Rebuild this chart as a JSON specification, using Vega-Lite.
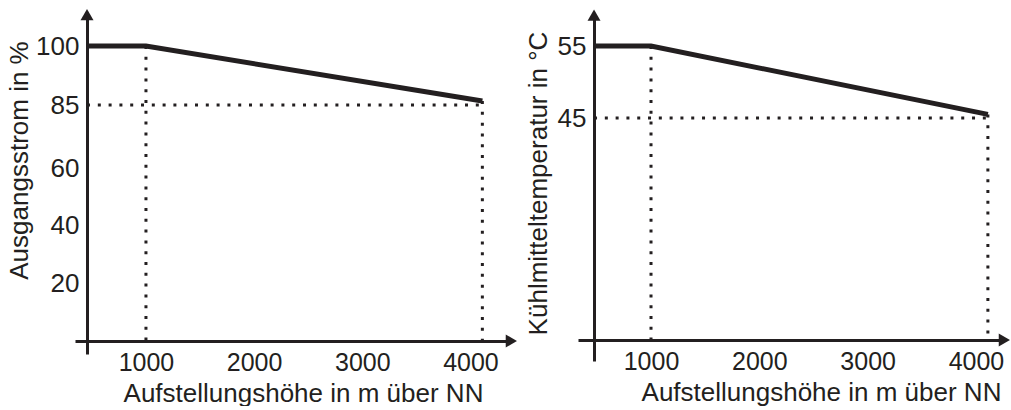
{
  "$schema": "https://vega.github.io/schema/vega-lite/v6.json",
  "autosize": {"type": "pad"},
  "padding": {"left": 6, "top": 8, "right": 0, "bottom": 0},
  "background": "white",
  "datasets": {
    "strom": [
      {"h": 455, "v": 100},
      {"h": 1000, "v": 100},
      {"h": 4110, "v": 86}
    ],
    "strom_linien": [
      {"h": 455, "h2": 4110, "v": 85, "v2": 85},
      {"h": 1000, "h2": 1000, "v": 100, "v2": 0},
      {"h": 4110, "h2": 4110, "v": 86, "v2": 0}
    ],
    "strom_pfeil_y": [{"h": 455, "v": 108}],
    "strom_pfeil_x": [{"h": 4378, "v": 0}],
    "temp": [
      {"h": 474, "v": 55},
      {"h": 1000, "v": 55},
      {"h": 4110, "v": 45.5}
    ],
    "temp_linien": [
      {"h": 474, "h2": 4110, "v": 45, "v2": 45},
      {"h": 1000, "h2": 1000, "v": 55, "v2": 0},
      {"h": 4110, "h2": 4110, "v": 45.5, "v2": 0}
    ],
    "temp_pfeil_y": [{"h": 474, "v": 59.3}],
    "temp_pfeil_x": [{"h": 4262, "v": 0}]
  },
  "bounds": "flush",
  "spacing": 66,
  "hconcat": [
    {
      "width": 437,
      "height": 348,
      "encoding": {
        "x": {
          "field": "h", "type": "quantitative",
          "scale": {"domain": [344, 4384], "nice": false, "zero": false},
          "axis": {"values": [1000, 2000, 3000, 4000], "format": "d", "offset": -20, "labelPadding": 9, "labelFontSize": 25, "title": "Aufstellungshöhe in m über NN", "titleX": 228, "titleY": 60}
        },
        "y": {
          "field": "v", "type": "quantitative",
          "scale": {"domain": [-4.5, 0, 60, 85, 100, 108.4], "range": [341, 328, 155, 92, 33, 0], "nice": false, "zero": false},
          "axis": {"values": [20, 40, 60, 85, 100], "offset": -12, "title": "Ausgangsstrom in %", "titleX": -59.5, "titleY": 147}
        }
      },
      "layer": [
        {
          "data": {"name": "strom_linien"},
          "mark": {"type": "rule", "strokeWidth": 3, "strokeDash": [3, 7.8], "color": "#231f20"},
          "encoding": {"x2": {"field": "h2"}, "y2": {"field": "v2"}}
        },
        {
          "data": {"name": "strom"},
          "mark": {"type": "line", "strokeWidth": 5, "color": "#231f20"},
          "encoding": {}
        },
        {
          "data": {"name": "strom_pfeil_y"},
          "mark": {"type": "point", "shape": "triangle-up", "filled": true, "size": 169, "color": "#231f20", "opacity": 1},
          "encoding": {}
        },
        {
          "data": {"name": "strom_pfeil_x"},
          "mark": {"type": "point", "shape": "triangle-right", "filled": true, "size": 169, "color": "#231f20", "opacity": 1},
          "encoding": {}
        }
      ]
    },
    {
      "width": 427,
      "height": 348,
      "encoding": {
        "x": {
          "field": "h", "type": "quantitative",
          "scale": {"domain": [326, 4268], "nice": false, "zero": false},
          "axis": {"values": [1000, 2000, 3000, 4000], "format": "d", "offset": -21, "labelPadding": 9, "labelFontSize": 25, "title": "Aufstellungshöhe in m über NN", "titleX": 243, "titleY": 60}
        },
        "y": {
          "field": "v", "type": "quantitative",
          "scale": {"domain": [-4.26, 0, 45, 55, 59.58], "range": [348, 327, 105, 33, 0], "nice": false, "zero": false},
          "axis": {"values": [45, 55], "offset": -16, "title": "Kühlmitteltemperatur in °C", "titleX": -47.5, "titleY": 170}
        }
      },
      "layer": [
        {
          "data": {"name": "temp_linien"},
          "mark": {"type": "rule", "strokeWidth": 3, "strokeDash": [3, 7.8], "color": "#231f20"},
          "encoding": {"x2": {"field": "h2"}, "y2": {"field": "v2"}}
        },
        {
          "data": {"name": "temp"},
          "mark": {"type": "line", "strokeWidth": 5, "color": "#231f20"},
          "encoding": {}
        },
        {
          "data": {"name": "temp_pfeil_y"},
          "mark": {"type": "point", "shape": "triangle-up", "filled": true, "size": 169, "color": "#231f20", "opacity": 1},
          "encoding": {}
        },
        {
          "data": {"name": "temp_pfeil_x"},
          "mark": {"type": "point", "shape": "triangle-right", "filled": true, "size": 169, "color": "#231f20", "opacity": 1},
          "encoding": {}
        }
      ]
    }
  ],
  "config": {
    "view": {"stroke": null},
    "axis": {
      "grid": false,
      "ticks": false,
      "domainColor": "#231f20",
      "domainWidth": 3,
      "labelFont": "Liberation Sans",
      "labelFontSize": 26,
      "labelColor": "#231f20",
      "labelPadding": 8,
      "labelFlush": false,
      "labelOverlap": false,
      "titleFont": "Liberation Sans",
      "titleFontSize": 26,
      "titleFontWeight": "normal",
      "titleColor": "#231f20",
      "titleBaseline": "alphabetic"
    }
  }
}
